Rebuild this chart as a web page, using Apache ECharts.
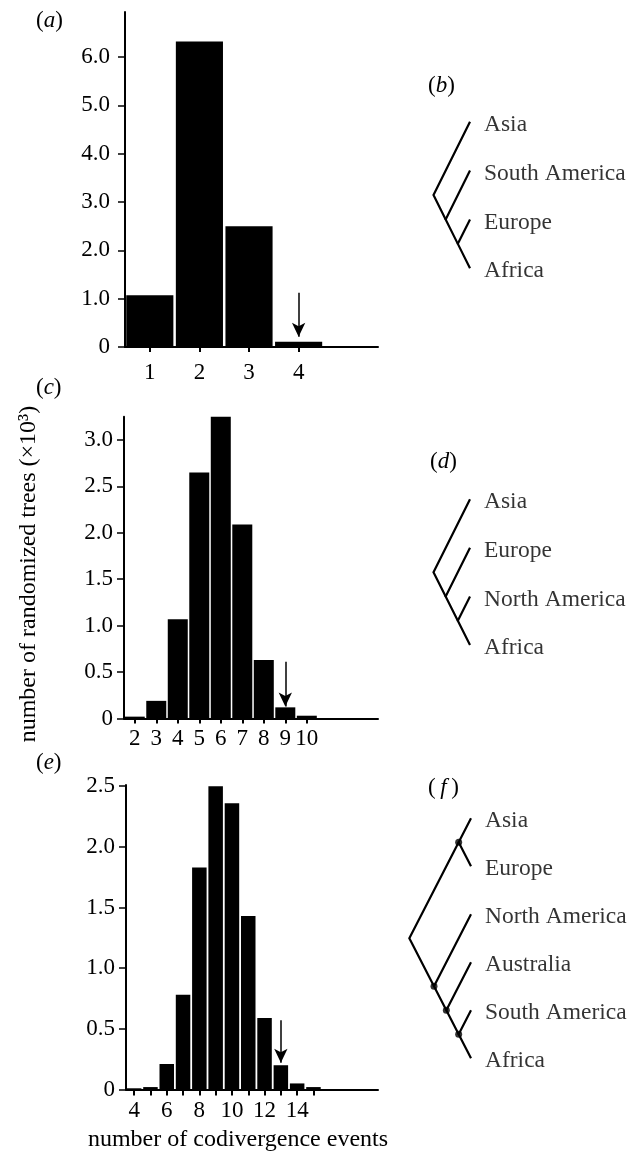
<!DOCTYPE html>
<html><head><meta charset="utf-8">
<script src="https://cdn.jsdelivr.net/npm/echarts@6/dist/echarts.min.js"></script>
<style>html,body{margin:0;padding:0;background:#fff}#c{width:632px;height:1156px}</style>
</head><body><div id="c"></div>
<script>
// ---- Panel (a) ----
const eventsA = [1, 2, 3, 4];
const countsA = [1.07, 6.32, 2.50, 0.11];
const xTicksA = [1, 2, 3, 4];
const yTicksA = [0, 1, 2, 3, 4, 5, 6];
const arrowA = [4, 1.12, 0.21];
// ---- Panel (c) ----
const eventsC = [2, 3, 4, 5, 6, 7, 8, 9, 10];
const countsC = [0.02, 0.19, 1.07, 2.65, 3.29, 2.09, 0.63, 0.12, 0.03];
const xTicksC = [2, 3, 4, 5, 6, 7, 8, 9, 10];
const yTicksC = [0, 0.5, 1, 1.5, 2, 2.5, 3];
const arrowC = [9, 0.61, 0.13];
// ---- Panel (e) ----
const eventsE = [4, 5, 6, 7, 8, 9, 10, 11, 12, 13, 14, 15];
const countsE = [0.01, 0.02, 0.21, 0.78, 1.83, 2.50, 2.36, 1.43, 0.59, 0.20, 0.05, 0.02];
const xTicksE = [4, 5, 6, 7, 8, 9, 10, 11, 12, 13, 14, 15];
const xLabelsE = [4, 6, 8, 10, 12, 14];
const yTicksE = [0, 0.5, 1, 1.5, 2, 2.5];
const arrowE = [13, 0.57, 0.22];
// ---- Trees (b), (d), (f) ----
const treeB = ['Asia', ['South America', ['Europe', 'Africa']]];
const treeD = ['Asia', ['Europe', ['North America', 'Africa']]];
const treeF = [['Asia', 'Europe'], ['North America', ['Australia', ['South America', 'Africa']]]];
const marksF = ['Asia|Europe', 'North America|Australia|South America|Africa', 'Australia|South America|Africa', 'South America|Africa'];

const F = 'Liberation Serif';

function layoutTree(tree) {
  const leaves = [], edges = [], nodes = [];
  function walk(n) {
    if (typeof n === 'string') {
      const i = leaves.length;
      leaves.push({ name: n, value: [0, i] });
      return { x: 0, y: i, lo: i, hi: i, names: [n] };
    }
    const kids = n.map(walk);
    const lo = kids[0].lo, hi = kids[kids.length - 1].hi;
    const p = { x: -(hi - lo) / 2, y: (lo + hi) / 2, lo, hi, names: [].concat(...kids.map(k => k.names)) };
    edges.push({ coords: [[kids[0].x, kids[0].y], [p.x, p.y], [kids[kids.length - 1].x, kids[kids.length - 1].y]] });
    nodes.push(p);
    return p;
  }
  walk(tree);
  return { leaves, edges, nodes, n: leaves.length };
}

const fmt1 = v => v === 0 ? '0' : v.toFixed(1);

function histX(gi, min, max, ticks, labels, tickLen, margin) {
  return {
    type: 'value', gridIndex: gi, min, max,
    axisLine: { show: true, onZero: false, lineStyle: { color: '#000', width: 2 } },
    splitLine: { show: false },
    axisTick: { show: true, customValues: ticks, length: tickLen, lineStyle: { color: '#000', width: 2 } },
    axisLabel: { customValues: labels, margin, color: '#000', fontSize: 23, fontFamily: F }
  };
}
function histY(gi, max, ticks, margin) {
  return {
    type: 'value', gridIndex: gi, min: 0, max,
    axisLine: { show: true, lineStyle: { color: '#000', width: 2 } },
    splitLine: { show: false },
    axisTick: { show: true, customValues: ticks, length: 7, lineStyle: { color: '#000', width: 1.5 } },
    axisLabel: { customValues: ticks, margin, color: '#000', fontSize: 23, fontFamily: F, formatter: fmt1 }
  };
}
function histSeries(gi, xs, ys, gap, arrow) {
  return {
    type: 'bar', xAxisIndex: gi, yAxisIndex: gi,
    data: xs.map((x, i) => [x, ys[i]]),
    barCategoryGap: gap,
    itemStyle: { color: '#000' },
    markLine: {
      silent: true, symbol: ['none', 'arrow'], symbolSize: [10, 14],
      lineStyle: { color: '#000', width: 1.5, type: 'solid' },
      label: { show: false },
      data: [[{ coord: [arrow[0], arrow[1]] }, { coord: [arrow[0], arrow[2]] }]]
    }
  };
}

const trees = [
  { t: layoutTree(treeB), marks: [], grid: { left: 397, top: 121.7, width: 73, height: 146.6 } },
  { t: layoutTree(treeD), marks: [], grid: { left: 397, top: 499.3, width: 73, height: 145.7 } },
  { t: layoutTree(treeF), marks: marksF, grid: { left: 397, top: 818.3, width: 74, height: 240 } }
];

const grids = [
  { left: 125, top: 12, width: 253, height: 335 },
  { left: 124, top: 416.7, width: 254, height: 301.8 },
  { left: 126, top: 785, width: 252, height: 304.5 }
].concat(trees.map(t => t.grid));

const xAxes = [
  histX(0, 0.5, 5.6, xTicksA, xTicksA, 5, 14),
  histX(1, 1.5, 13.31, xTicksC, xTicksC, 5, 9),
  histX(2, 3.5, 18.96, xTicksE, xLabelsE, 6, 10)
];
const yAxes = [
  histY(0, 6.93, yTicksA, 15),
  histY(1, 3.25, yTicksC, 11),
  histY(2, 2.51, yTicksE, 11)
];
const series = [
  histSeries(0, eventsA, countsA, '5%', arrowA),
  histSeries(1, eventsC, countsC, '7%', arrowC),
  histSeries(2, eventsE, countsE, '11%', arrowE)
];

trees.forEach((tr, k) => {
  const gi = 3 + k;
  xAxes.push({ type: 'value', gridIndex: gi, min: -3, max: 0, show: false });
  yAxes.push({ type: 'value', gridIndex: gi, min: 0, max: tr.t.n - 1, inverse: true, show: false });
  series.push({
    type: 'lines', coordinateSystem: 'cartesian2d', xAxisIndex: gi, yAxisIndex: gi,
    polyline: true, silent: true,
    lineStyle: { color: '#000', width: 2.2, opacity: 1, join: 'miter' },
    data: tr.t.edges
  });
  series.push({
    type: 'scatter', xAxisIndex: gi, yAxisIndex: gi, symbolSize: 0, silent: true,
    data: tr.t.leaves,
    label: { show: true, position: 'right', distance: 14, offset: [0, 3], formatter: '{b}', color: '#000', fontSize: 23.5, fontFamily: F }
  });
  const marked = tr.t.nodes.filter(p => tr.marks.includes(p.names.join('|'))).map(p => [p.x, p.y]);
  if (marked.length) {
    series.push({
      type: 'scatter', xAxisIndex: gi, yAxisIndex: gi, symbol: 'circle', symbolSize: 7, silent: true,
      itemStyle: { color: '#000' }, data: marked
    });
  }
});

function panelLabel(letter, x, y) {
  return {
    type: 'text', x, y,
    style: {
      text: '{n|(}{i|' + letter + '}{n|)}',
      rich: {
        n: { fontSize: 23, fontFamily: F, fill: '#000' },
        i: { fontSize: 23, fontFamily: F, fontStyle: 'italic', fill: '#000' }
      },
      verticalAlign: 'middle', fill: '#000'
    }
  };
}

const chart = echarts.init(document.getElementById('c'));
chart.setOption({
  animation: false,
  backgroundColor: '#fff',
  textStyle: { fontFamily: F, color: '#000' },
  grid: grids,
  xAxis: xAxes,
  yAxis: yAxes,
  series,
  graphic: [
    panelLabel('a', 36, 21),
    panelLabel('c', 36, 388),
    panelLabel('e', 36, 763),
    panelLabel('b', 428, 86),
    panelLabel('d', 430, 462),
    panelLabel('\u2009f\u2009', 428, 788),
    {
      type: 'text', x: 29, y: 574, rotation: Math.PI / 2,
      style: { text: 'number of randomized trees (\u00d710\u00b3)', fontSize: 24, fontFamily: F, fill: '#000', align: 'center', verticalAlign: 'middle' }
    },
    {
      type: 'text', x: 238, y: 1140,
      style: { text: 'number of codivergence events', fontSize: 24, fontFamily: F, fill: '#000', align: 'center', verticalAlign: 'middle' }
    }
  ]
});
</script></body></html>
